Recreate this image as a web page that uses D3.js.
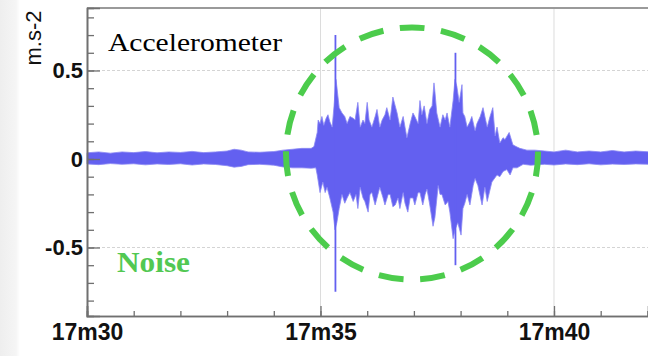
<!DOCTYPE html>
<html><head><meta charset="utf-8">
<script src="https://cdn.jsdelivr.net/npm/d3@7"></script>
<style>html,body{margin:0;padding:0;background:#fff;}svg{display:block;}</style>
</head><body>
<svg id="c" width="648" height="356"></svg>
<script>
// ---------- data (time = seconds after 17m30, value in m.s-2) ----------
const xTickValues = [0, 5, 10];
const xTickLabels = ["17m30", "17m35", "17m40"];
const yTickValues = [-0.5, 0, 0.5];
const yTickLabels = ["-0.5", "0", "0.5"];
const yUnit = "m.s-2";

const upperT = [0,0.25,0.5,0.75,1,1.25,1.5,1.75,2,2.25,2.5,2.75,3,3.15,3.3,3.45,3.7,4,4.2,4.4,4.6,4.8,4.86,
 4.93,4.95,4.99,5.03,5.07,5.12,5.16,5.2,5.25,5.29,5.33,5.35,5.4,5.46,5.52,5.57,5.63,5.7,5.74,5.8,5.85,5.91,5.95,
 6,6.04,6.1,6.17,6.21,6.27,6.32,6.38,6.42,6.49,6.55,6.6,6.64,6.7,6.77,6.81,6.85,6.92,6.98,7.02,7.09,7.13,7.17,
 7.22,7.28,7.34,7.39,7.43,7.45,7.49,7.56,7.62,7.67,7.71,7.77,7.84,7.88,7.92,7.97,8.03,8.05,8.09,8.14,8.2,8.24,
 8.31,8.35,8.42,8.48,8.52,8.57,8.63,8.69,8.74,8.78,8.84,8.91,8.95,9.04,9.12,9.19,9.27,9.42,9.59,
 9.8,10,10.25,10.5,10.75,11,11.25,11.5,11.75,12.05];
const upperV = [0.035,0.04,0.033,0.04,0.036,0.042,0.035,0.04,0.037,0.043,0.036,0.04,0.045,0.055,0.05,0.04,0.038,0.042,0.05,0.055,0.06,0.06,0.07,
 0.15,0.22,0.2,0.24,0.19,0.23,0.25,0.21,0.18,0.3,0.45,0.41,0.29,0.26,0.24,0.2,0.24,0.23,0.22,0.32,0.18,0.22,0.2,
 0.32,0.22,0.18,0.24,0.28,0.18,0.22,0.25,0.29,0.22,0.35,0.3,0.26,0.18,0.24,0.18,0.12,0.2,0.26,0.24,0.2,0.33,0.25,
 0.3,0.2,0.28,0.3,0.43,0.38,0.26,0.18,0.25,0.22,0.26,0.18,0.33,0.45,0.41,0.32,0.42,0.26,0.24,0.18,0.21,0.24,
 0.16,0.2,0.24,0.29,0.24,0.18,0.24,0.29,0.13,0.18,0.09,0.12,0.11,0.15,0.08,0.07,0.06,0.05,0.05,
 0.045,0.04,0.05,0.04,0.045,0.04,0.048,0.04,0.045,0.04];

const lowerT = [0,0.25,0.5,0.75,1,1.25,1.5,1.75,2,2.25,2.5,2.75,3,3.15,3.3,3.45,3.7,4,4.2,4.4,4.6,4.8,4.9,
 4.93,4.99,5.05,5.1,5.14,5.2,5.27,5.31,5.35,5.4,5.46,5.52,5.57,5.63,5.7,5.76,5.8,5.85,5.91,5.95,6.02,6.06,6.1,
 6.17,6.23,6.27,6.34,6.38,6.45,6.49,6.55,6.6,6.66,6.7,6.77,6.81,6.87,6.92,6.98,7.02,7.09,7.13,7.19,7.24,7.28,
 7.34,7.41,7.45,7.52,7.56,7.6,7.67,7.73,7.77,7.84,7.88,7.94,8.01,8.05,8.09,8.14,8.2,8.27,8.31,8.37,8.46,8.52,
 8.57,8.67,8.78,8.84,8.91,8.99,9.06,9.12,9.21,9.34,
 9.5,9.8,10,10.25,10.5,10.75,11,11.25,11.5,11.75,12.05];
const lowerV = [-0.028,-0.032,-0.026,-0.03,-0.027,-0.033,-0.028,-0.031,-0.027,-0.034,-0.028,-0.031,-0.038,-0.046,-0.042,-0.032,-0.03,-0.035,-0.045,-0.05,-0.05,-0.052,-0.05,
 -0.09,-0.19,-0.13,-0.19,-0.16,-0.22,-0.3,-0.4,-0.36,-0.28,-0.2,-0.25,-0.22,-0.19,-0.24,-0.2,-0.28,-0.16,-0.22,-0.24,-0.3,-0.2,-0.19,
 -0.26,-0.2,-0.16,-0.22,-0.26,-0.2,-0.2,-0.27,-0.26,-0.22,-0.28,-0.19,-0.25,-0.3,-0.22,-0.22,-0.26,-0.19,-0.19,-0.26,-0.2,-0.17,
 -0.26,-0.38,-0.33,-0.15,-0.2,-0.2,-0.26,-0.24,-0.3,-0.45,-0.4,-0.36,-0.43,-0.28,-0.25,-0.2,-0.26,-0.15,-0.11,-0.15,-0.26,-0.16,
 -0.24,-0.13,-0.09,-0.1,-0.07,-0.06,-0.09,-0.05,-0.05,-0.03,
 -0.035,-0.03,-0.034,-0.028,-0.032,-0.027,-0.033,-0.029,-0.031,-0.028,-0.03];

const spikeT  = [5.32, 7.89];
const spikeHi = [0.70, 0.60];
const spikeLo = [-0.75, -0.60];

// ---------- layout ----------
const svg = d3.select("#c");
const L = 87, R = 648, T = 8, B = 316;
const x = d3.scaleLinear().domain([0, 12.013]).range([L, R]);
const y = d3.scaleLinear().domain([-0.887, 0.853]).range([B, T]);

// left shaded strip
const defs = svg.append("defs");
const g0 = defs.append("linearGradient").attr("id","lg").attr("x1","0").attr("x2","1");
g0.append("stop").attr("offset","0").attr("stop-color","#eeeeee");
g0.append("stop").attr("offset","0.8").attr("stop-color","#f5f5f5");
g0.append("stop").attr("offset","1").attr("stop-color","#ffffff");
svg.append("rect").attr("x",0).attr("y",0).attr("width",20).attr("height",356).attr("fill","url(#lg)");

// grid
const grid = svg.append("g");
grid.selectAll(".gy").data(yTickValues).join("line")
  .attr("x1", L).attr("x2", R).attr("y1", d => y(d)).attr("y2", d => y(d))
  .attr("stroke", "#d4d4d4").attr("stroke-width", 1).attr("stroke-dasharray", "3,2");
grid.selectAll(".gx").data(xTickValues.slice(1)).join("line")
  .attr("x1", d => x(d)).attr("x2", d => x(d)).attr("y1", T).attr("y2", B)
  .attr("stroke", "#dcdcdc").attr("stroke-width", 1);

// signal envelope
const pts = upperT.map((t,i)=>[t, upperV[i]]).concat(lowerT.map((t,i)=>[t, lowerV[i]]).reverse());
const line = d3.line().x(d => x(d[0])).y(d => y(d[1]));
svg.append("path").attr("d", line(pts) + "Z")
  .attr("fill", "#6360f0").attr("stroke", "#8a88f4").attr("stroke-width", 0.8);
svg.selectAll(".sp").data(spikeT).join("line")
  .attr("x1", d => x(d)).attr("x2", d => x(d))
  .attr("y1", (d,i) => y(spikeHi[i])).attr("y2", (d,i) => y(spikeLo[i]))
  .attr("stroke", "#6360f0").attr("stroke-width", 1.8);

// frame top
svg.append("line").attr("x1", L).attr("x2", R).attr("y1", T).attr("y2", T)
  .attr("stroke", "#9a9a9a").attr("stroke-width", 2);

// axes
const yMinor = d3.range(-8, 9).map(k => k/10);
const gyMin = svg.append("g").attr("transform", `translate(${L},0)`)
  .call(d3.axisLeft(y).tickValues(yMinor).tickSize(-7).tickFormat(""));
const gy = svg.append("g").attr("transform", `translate(${L},0)`)
  .call(d3.axisLeft(y).tickValues(yTickValues).tickSize(-13).tickPadding(4)
    .tickFormat((d,i) => yTickLabels[i]));
const xMinor = d3.range(0, 13);
const gxMin = svg.append("g").attr("transform", `translate(0,${B})`)
  .call(d3.axisBottom(x).tickValues(xMinor).tickSize(-5).tickFormat(""));
const gx = svg.append("g").attr("transform", `translate(0,${B})`)
  .call(d3.axisBottom(x).tickValues(xTickValues).tickSize(-10).tickPadding(8)
    .tickFormat((d,i) => xTickLabels[i]));
[gyMin, gy, gxMin, gx].forEach(g => {
  g.selectAll("path.domain").attr("stroke", "#707070").attr("stroke-width", 1.6);
  g.selectAll(".tick line").attr("stroke", "#707070").attr("stroke-width", 1.3);
});
gy.selectAll("text").attr("font-family", "'Liberation Sans', Arial, sans-serif")
  .attr("font-weight", "bold").attr("font-size", 22).attr("fill", "#111");
gx.selectAll("text").attr("font-family", "'Liberation Sans', Arial, sans-serif")
  .attr("font-weight", "bold").attr("font-size", 23).attr("fill", "#111");

// unit label
svg.append("text").attr("transform", "translate(41,38) rotate(-90)")
  .attr("text-anchor", "middle").attr("font-family", "'Liberation Sans', Arial, sans-serif")
  .attr("font-size", 22).attr("fill", "#111").text(yUnit);

// annotations
svg.append("text").attr("x", 108).attr("y", 51)
  .attr("font-family", "'Liberation Serif', 'Times New Roman', serif")
  .attr("font-size", 26).attr("fill", "#000")
  .attr("textLength", 174).attr("lengthAdjust", "spacingAndGlyphs").text("Accelerometer");
svg.append("text").attr("x", 117).attr("y", 272)
  .attr("font-family", "'Liberation Serif', 'Times New Roman', serif")
  .attr("font-weight", "bold").attr("font-size", 30).attr("fill", "#52c852")
  .attr("textLength", 73).attr("lengthAdjust", "spacingAndGlyphs").text("Noise");

const cx = 412, cy = 153.5, r = 126;
const circ = 2 * Math.PI * r, period = circ / 19;
svg.append("path")
  .attr("d", `M${cx},${cy - r} A${r},${r} 0 1 1 ${cx},${cy + r} A${r},${r} 0 1 1 ${cx},${cy - r}`)
  .attr("fill", "none").attr("stroke", "#4ccc4c").attr("stroke-width", 6)
  .attr("stroke-dasharray", `${period*0.6},${period*0.4}`)
  .attr("stroke-dashoffset", period*0.3);
</script>
</body></html>
